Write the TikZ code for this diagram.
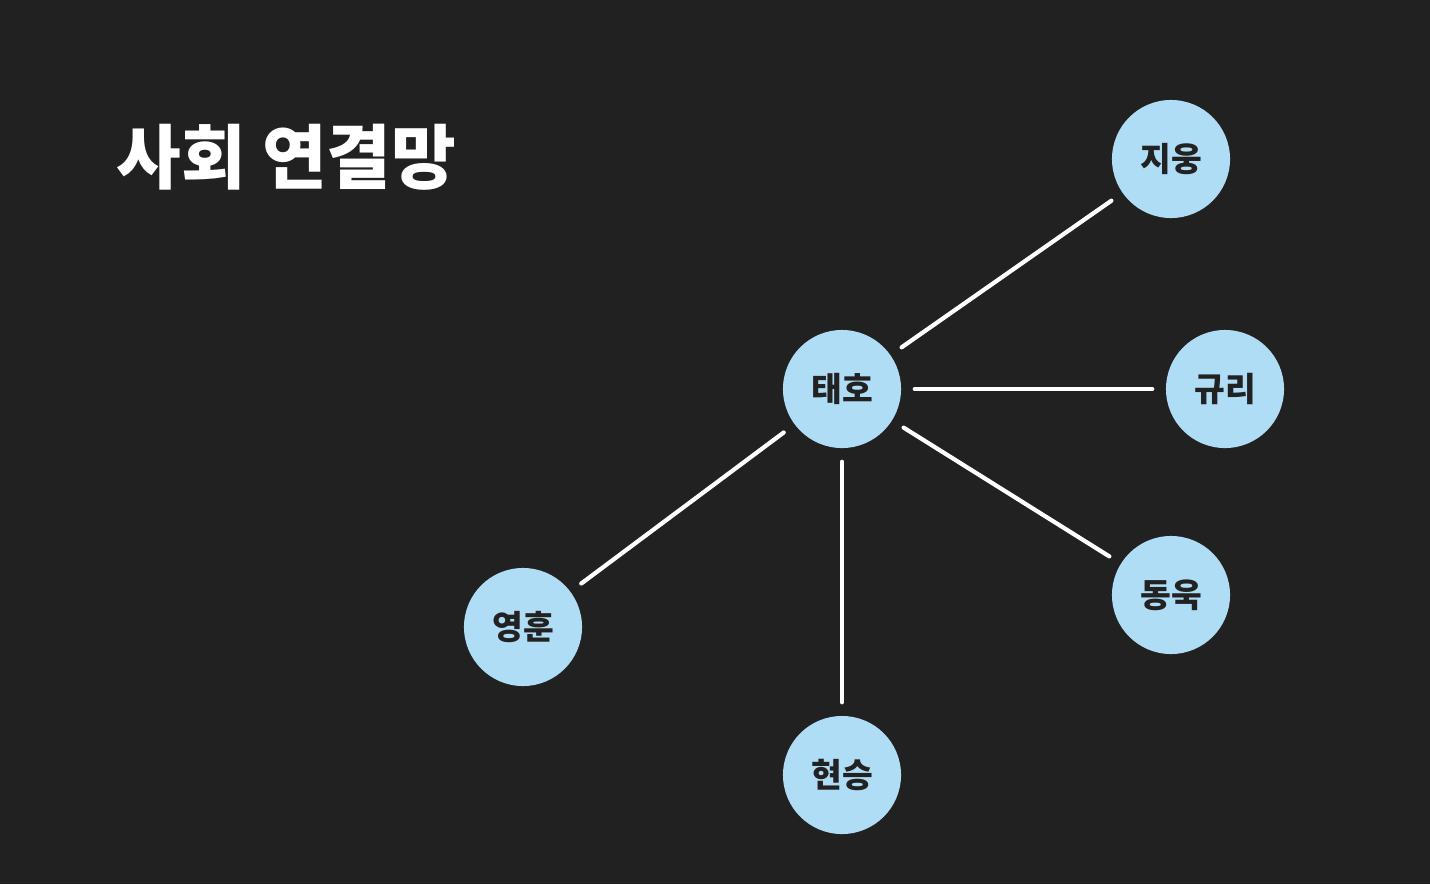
\documentclass[tikz,border=0pt]{standalone}
\usepackage{fontspec}
\newfontfamily\krfont{Noto Sans CJK KR}
\definecolor{bgdark}{HTML}{212121}
\definecolor{nodeblue}{HTML}{AEDDF5}
\definecolor{labeldark}{HTML}{222222}
\tikzset{
    person/.style={circle, fill=nodeblue, minimum size=1.18cm, inner sep=0pt,
        text=labeldark, font=\krfont\bfseries\fontsize{9.5pt}{11pt}\selectfont},
    tie/.style={draw=white, line width=1.2pt, line cap=round,
        shorten <=0.13cm, shorten >=0.13cm}
}
\begin{document}
\begin{tikzpicture}[x=0.01cm, y=-0.01cm]
    \fill[bgdark] (0,0) rectangle (1430,884);
    \useasboundingbox (0,0) rectangle (1430,884);

    \node[anchor=west, text=white, inner sep=0pt,
        font=\krfont\bfseries\fontsize{20pt}{24pt}\selectfont] (title) at (116,157) {사회 연결망};

    \node[person] (taeho) at (842,389) {태호};
    \node[person] (jiung) at (1171,159) {지웅};
    \node[person] (gyuri) at (1225,389) {규리};
    \node[person] (donguk) at (1171,595) {동욱};
    \node[person] (hyeonseung) at (842,775) {현승};
    \node[person] (yeonghun) at (523,627) {영훈};

    % ties from the centre
    \foreach \friend in {jiung, gyuri, donguk, hyeonseung, yeonghun}
        \draw[tie] (taeho) -- (\friend);

\end{tikzpicture}
\end{document}
